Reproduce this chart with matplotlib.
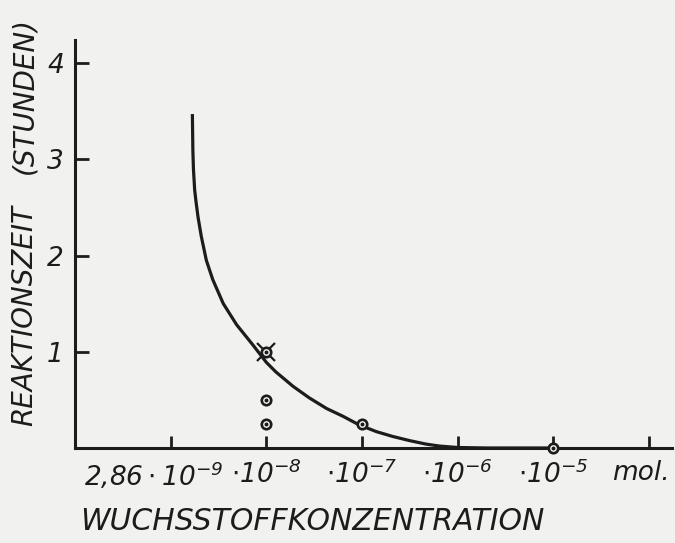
import numpy as np
import matplotlib
matplotlib.use('Agg')
import matplotlib.pyplot as plt
import matplotlib.transforms as mtransforms

# concentration axis: 2,86 * 10^-9 mol times 10^k
base_conc = 2.86e-9
tick_labels = [r'$2{,}86\cdot10^{-9}$', r'$\cdot10^{-8}$', r'$\cdot10^{-7}$',
               r'$\cdot10^{-6}$', r'$\cdot10^{-5}$', 'mol.']
tick_decades = [0, 1, 2, 3, 4, 5]
y_ticks = [1, 2, 3, 4]

# fitted curve (decades above base, hours)
curve_dec = [0.227, 0.232, 0.238, 0.251, 0.265, 0.286, 0.32, 0.373, 0.44,
             0.55, 0.69, 0.86, 1.0, 1.10, 1.28, 1.45, 1.63, 1.80, 1.97,
             2.15, 2.32, 2.50, 2.67, 2.81, 3.0, 3.3, 4.0]
curve_hours = [3.47, 3.10, 2.90, 2.68, 2.56, 2.40, 2.20, 1.95, 1.75,
               1.50, 1.28, 1.07, 0.89, 0.79, 0.64, 0.52, 0.41, 0.33, 0.24,
               0.17, 0.12, 0.076, 0.04, 0.02, 0.005, 0.0, 0.0]

# measured points
pt_dec = [1, 1, 2, 4]
pt_hours = [0.5, 0.25, 0.25, 0.0]
cross_dec = [1]
cross_hours = [1.0]

ink = '#1c1c1c'
paper = '#f1f1ef'

plt.rcParams['mathtext.fontset'] = 'custom'
plt.rcParams['mathtext.rm'] = 'DejaVu Sans:italic'
plt.rcParams['mathtext.it'] = 'DejaVu Sans:italic'
plt.rcParams['mathtext.bf'] = 'DejaVu Sans:italic:bold'

fig = plt.figure(figsize=(6.75, 5.43), dpi=100, facecolor=paper)
ax = fig.add_axes([0.1111, 0.175, 0.8844, 0.7514])
ax.set_facecolor(paper)

conc = lambda d: base_conc * 10 ** np.asarray(d, dtype=float)

ax.plot(conc(curve_dec), curve_hours, color=ink, lw=2.3, solid_capstyle='butt',
        solid_joinstyle='round', zorder=3)

# crossed point
ax.plot(conc(cross_dec), cross_hours, 'x', color=ink, ms=13.5, mew=1.6, zorder=4)
ax.plot(conc(pt_dec + cross_dec), pt_hours + cross_hours, 'o', ms=6.8,
        mfc=paper, mec=ink, mew=1.9, zorder=5, clip_on=False)
ax.plot(conc(pt_dec + cross_dec), pt_hours + cross_hours, 'o', ms=1.8,
        color=ink, zorder=6, clip_on=False)

ax.set_xscale('log')
ax.set_xlim(base_conc / 10, base_conc * 10 ** 5.24)
ax.set_ylim(0, 4.24)

ax.xaxis.set_minor_locator(matplotlib.ticker.NullLocator())
ax.set_xticks(conc(tick_decades))
ax.set_xticklabels(tick_labels)
ax.set_yticks(y_ticks)
ax.set_yticklabels([str(v) for v in y_ticks])

for s in ['top', 'right']:
    ax.spines[s].set_visible(False)
for s in ['left', 'bottom']:
    ax.spines[s].set_linewidth(2.2)
    ax.spines[s].set_color(ink)

ax.tick_params(axis='x', direction='in', length=9, width=2.0, color=ink, pad=9)
ax.tick_params(axis='y', direction='in', length=10, width=2.0, color=ink, pad=8)

for lab in ax.get_xticklabels() + ax.get_yticklabels():
    lab.set_fontfamily('DejaVu Sans')
    lab.set_fontstyle('italic')
    lab.set_fontsize(19)
    lab.set_color(ink)

xlabs = ax.get_xticklabels()
xlabs[0].set_transform(xlabs[0].get_transform() +
                       mtransforms.ScaledTranslation(-0.17, 0, fig.dpi_scale_trans))
xlabs[-1].set_transform(xlabs[-1].get_transform() +
                        mtransforms.ScaledTranslation(-0.08, 0, fig.dpi_scale_trans))

txt = dict(family='DejaVu Sans', style='italic', color=ink)
fig.text(312 / 675, 1 - 522 / 543, 'WUCHSSTOFFKONZENTRATION',
         ha='center', va='center', fontsize=21.5, **txt)
fig.text(24 / 675, 1 - 315 / 543, 'REAKTIONSZEIT', rotation=90,
         ha='center', va='center', fontsize=20, **txt)
fig.text(24 / 675, 1 - 96 / 543, '(STUNDEN)', rotation=90,
         ha='center', va='center', fontsize=20, **txt)

fig.savefig('out.png', dpi=100, facecolor=paper)
